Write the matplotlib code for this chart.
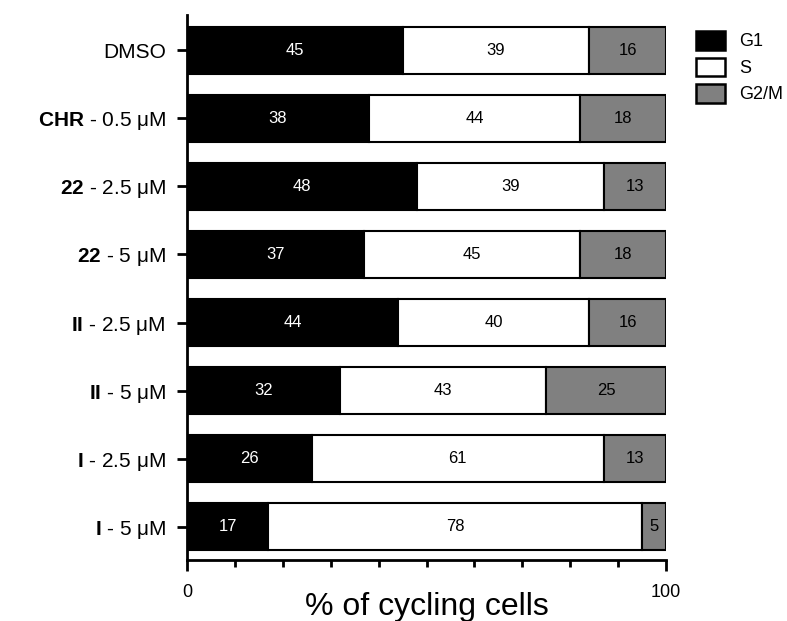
import numpy as np
import matplotlib
matplotlib.use("Agg")
import matplotlib.pyplot as plt
from matplotlib.patches import Patch
from matplotlib.ticker import MultipleLocator

plt.rcParams['font.family'] = ['Liberation Sans', 'DejaVu Sans']
plt.rcParams['mathtext.fontset'] = 'custom'
plt.rcParams['mathtext.rm'] = 'Liberation Sans'
plt.rcParams['mathtext.bf'] = 'Liberation Sans:bold'

# data
labels = [r"DMSO", r"$\mathbf{CHR}$ - 0.5 μM", r"$\mathbf{22}$ - 2.5 μM", r"$\mathbf{22}$ - 5 μM",
          r"$\mathbf{II}$ - 2.5 μM", r"$\mathbf{II}$ - 5 μM", r"$\mathbf{I}$ - 2.5 μM", r"$\mathbf{I}$ - 5 μM"]
g1 = [45, 38, 48, 37, 44, 32, 26, 17]
s_phase = [39, 44, 39, 45, 40, 43, 61, 78]
g2m = [16, 18, 13, 18, 16, 25, 13, 5]
phases = ["G1", "S", "G2/M"]
colors = ["black", "white", "#808080"]
text_colors = ["white", "black", "black"]

fig = plt.figure(figsize=(7.87, 6.21), dpi=100)
ax = fig.add_axes([187 / 787, 61 / 621, 479 / 787, 545 / 621])

y = np.arange(len(labels))
left = np.zeros(len(labels))
for vals, col, tcol in zip([g1, s_phase, g2m], colors, text_colors):
    vals = np.array(vals)
    ax.barh(y, vals, left=left, height=0.69, color=col, edgecolor='black', linewidth=1.5)
    for yi, l, v in zip(y, left, vals):
        ax.text(l + v / 2, yi, str(v), ha='center', va='center', color=tcol, fontsize=12)
    left += vals

ax.set_ylim(len(labels) - 0.515, -0.515)
ax.set_xlim(0, 100)
ax.set_yticks(y)
ax.set_yticklabels(labels, fontsize=15)
ax.set_xticks([0, 100])
ax.set_xticklabels(["0", "100"], fontsize=13)
ax.xaxis.set_minor_locator(MultipleLocator(10))
ax.tick_params(axis='x', which='major', length=8, width=2, pad=9)
ax.tick_params(axis='x', which='minor', length=5, width=2)
ax.tick_params(axis='y', length=7, width=2, pad=8)
ax.set_xlabel("% of cycling cells", fontsize=23, labelpad=-6)

for side in ['top', 'right']:
    ax.spines[side].set_visible(False)
for side in ['left', 'bottom']:
    ax.spines[side].set_linewidth(2)

handles = [Patch(facecolor=c, edgecolor='black', linewidth=1.8) for c in colors]
fig.legend(handles, phases, loc='upper left', bbox_to_anchor=(696 / 787, 1 - 31 / 621),
           frameon=False, fontsize=13, handlelength=1.6, handleheight=1.2, handletextpad=0.8,
           labelspacing=0.4, borderaxespad=0, borderpad=0)

fig.savefig("out.png", dpi=100)
